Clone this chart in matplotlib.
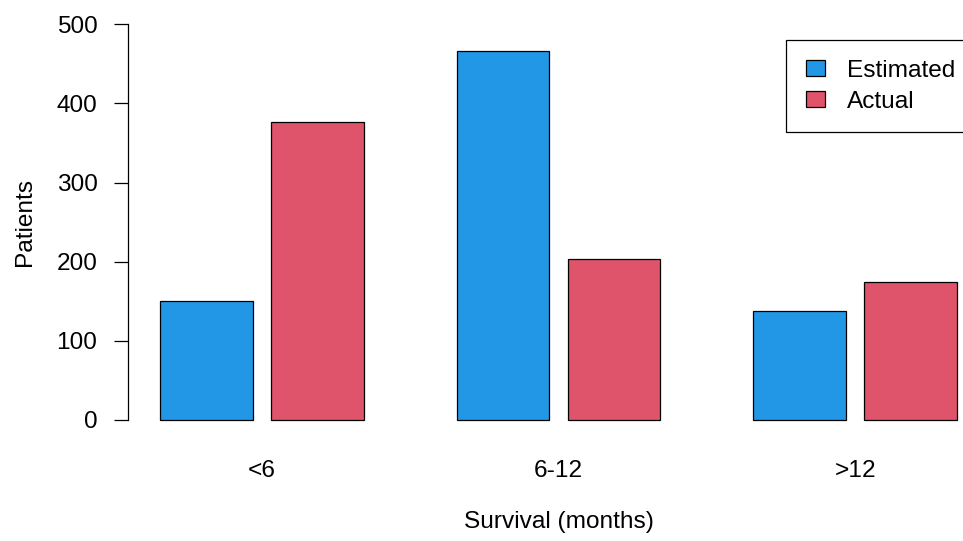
import numpy as np
import matplotlib
matplotlib.use('Agg')
import matplotlib.pyplot as plt
from matplotlib.patches import Patch

categories = ['<6', '6-12', '>12']
estimated = [150, 466, 138]
actual = [376, 203, 174]
series_names = ['Estimated', 'Actual']
colors = ['#2297E6', '#DF536B']
yticks = [0, 100, 200, 300, 400, 500]

plt.rcParams['font.family'] = ['Liberation Sans', 'DejaVu Sans']
fs = 17.6

W, H = 963, 541
fig = plt.figure(figsize=(W / 100, H / 100), dpi=100)
# plot region runs past the right edge, as in the original R device
ax = fig.add_axes([128 / W, 1 - 435.8 / H, (989 - 128) / W, (435.8 - 8.5) / H])

# R barplot layout: width 1, space 0.2 inside a group, 1 between groups
group_start = 1 + np.arange(len(categories)) * 3.2
ax.bar(group_start, estimated, width=1, align='edge', color=colors[0],
       edgecolor='black', linewidth=0.9)
ax.bar(group_start + 1.2, actual, width=1, align='edge', color=colors[1],
       edgecolor='black', linewidth=0.9)

ax.set_xlim(0.656, 9.944)
ax.set_ylim(-20, 520)

for s in ['top', 'right', 'bottom']:
    ax.spines[s].set_visible(False)
ax.spines['left'].set_bounds(0, 500)
ax.spines['left'].set_linewidth(0.9)

ax.set_yticks(yticks)
ax.tick_params(axis='y', length=10, width=0.9, pad=12, labelsize=fs)
ax.set_xticks(group_start + 1.1, categories)
ax.tick_params(axis='x', length=0, pad=17.5, labelsize=fs)

fig.text(25 / W, 1 - 222 / H, 'Patients', rotation=90, ha='center', va='center', fontsize=fs)
fig.text(558.5 / W, 1 - 522 / H, 'Survival (months)', ha='center', va='center', fontsize=fs)

handles = [Patch(facecolor=c, edgecolor='black', linewidth=0.9) for c in colors]
leg = ax.legend(handles, series_names, loc='upper left',
                bbox_to_anchor=(786 / W, 1 - 40 / H), bbox_transform=fig.transFigure,
                fancybox=False, edgecolor='black', framealpha=1, borderaxespad=0,
                borderpad=0.8, handlelength=0.78, handleheight=0.65,
                handletextpad=0.9, labelspacing=0.37, fontsize=fs)
leg.get_frame().set_linewidth(0.9)

fig.savefig('out.png', dpi=100)
